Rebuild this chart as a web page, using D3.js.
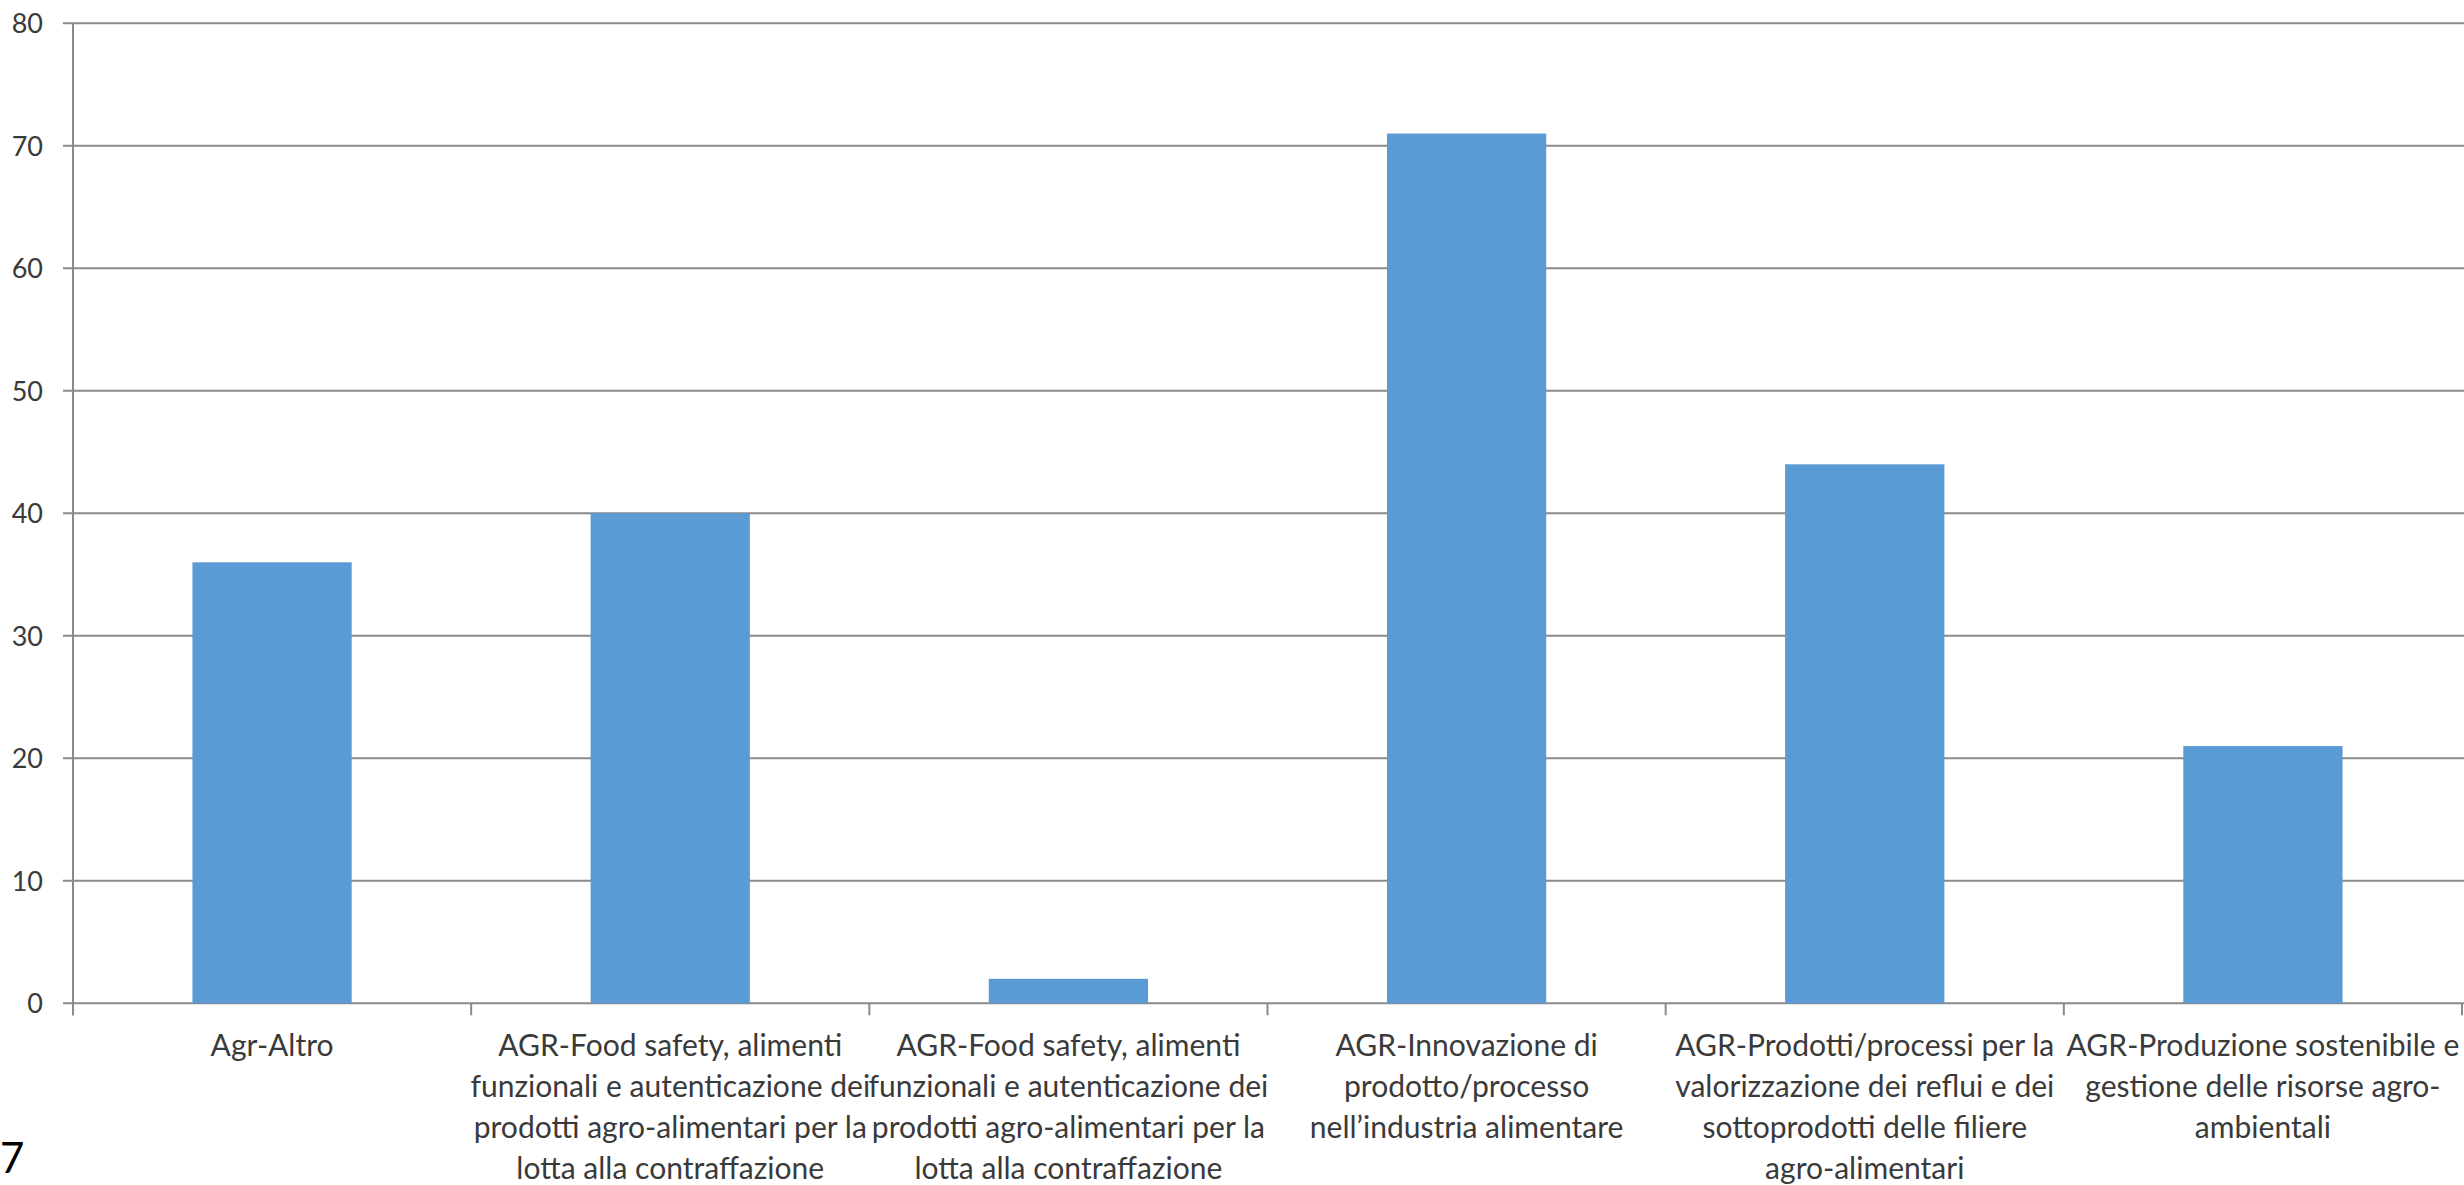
<!DOCTYPE html>
<html>
<head>
<meta charset="utf-8">
<script src="https://cdn.jsdelivr.net/npm/d3@7"></script>
<style>
  html, body { margin: 0; padding: 0; background: #fff; overflow: hidden; }
  svg { display: block; }
</style>
</head>
<body>
<svg id="chart" width="2464" height="1185"></svg>
<script>
// Categories (each entry is the wrapped label, one string per line)
const categoryLines = [
  ["Agr-Altro"],
  ["AGR-Food safety, alimenti", "funzionali e autenticazione dei", "prodotti agro-alimentari per la", "lotta alla contraffazione"],
  ["AGR-Food safety, alimenti", "funzionali e autenticazione dei", "prodotti agro-alimentari per la", "lotta alla contraffazione"],
  ["AGR-Innovazione di", "prodotto/processo", "nell’industria alimentare"],
  ["AGR-Prodotti/processi per la", "valorizzazione dei reflui e dei", "sottoprodotti delle filiere", "agro-alimentari"],
  ["AGR-Produzione sostenibile e", "gestione delle risorse agro-", "ambientali"]
];
const values = [36, 40, 2, 71, 44, 21];
const yTicks = [0, 10, 20, 30, 40, 50, 60, 70, 80];
const pageNumber = "7";

const svg = d3.select("#chart");
const margin = { left: 73, right: 2, top: 23, bottom: 182 };
const W = 2464, H = 1185;

const x = d3.scaleBand()
  .domain(d3.range(values.length))
  .range([margin.left, W - margin.right])
  .paddingInner(0)
  .paddingOuter(0);

const y = d3.scaleLinear()
  .domain([0, 80])
  .range([H - margin.bottom + 0.3, margin.top + 0.3]);

const gridColor = "#8a8a8a";
const textColor = "#3a3a3a";
const labelFont = "Lato, 'Open Sans', sans-serif";

// Horizontal gridlines with left ticks
const grid = svg.append("g");
grid.selectAll("line")
  .data(yTicks)
  .join("line")
  .attr("x1", margin.left - 10)
  .attr("x2", W)
  .attr("y1", d => y(d))
  .attr("y2", d => y(d))
  .attr("stroke", gridColor)
  .attr("stroke-width", 2);

// Y-axis tick labels
svg.append("g").selectAll("text")
  .data(yTicks)
  .join("text")
  .attr("x", 43)
  .attr("y", d => y(d))
  .attr("dy", "0.36em")
  .attr("text-anchor", "end")
  .attr("font-family", labelFont)
  .attr("font-size", 27)
  .attr("fill", textColor)
  .text(d => d);

// Bars: 40% of each category slot, centred
const barFrac = 0.4;
svg.append("g").selectAll("rect")
  .data(values)
  .join("rect")
  .attr("x", (d, i) => x(i) + x.bandwidth() * (1 - barFrac) / 2)
  .attr("width", x.bandwidth() * barFrac)
  .attr("y", d => y(d))
  .attr("height", d => y(0) - y(d))
  .attr("fill", "#5b9bd5");

// Axis lines
svg.append("line")
  .attr("x1", margin.left).attr("x2", margin.left)
  .attr("y1", y(80)).attr("y2", y(0) + 12)
  .attr("stroke", gridColor).attr("stroke-width", 2);

// Category boundary ticks below the baseline
const bounds = d3.range(values.length + 1).map(i => margin.left + i * x.step());
svg.append("g").selectAll("line")
  .data(bounds)
  .join("line")
  .attr("x1", d => d).attr("x2", d => d)
  .attr("y1", y(0)).attr("y2", y(0) + 12)
  .attr("stroke", gridColor).attr("stroke-width", 2);

// Category labels, condensed horizontally
const labelSize = 31;
const lineGap = 41;
const labelGroups = svg.append("g").selectAll("g")
  .data(categoryLines)
  .join("g")
  .attr("transform", (d, i) => `translate(${x(i) + x.bandwidth() / 2},${y(0) + 53})`);

const inner = labelGroups.append("g");
inner.each(function(lines) {
  d3.select(this).selectAll("text")
    .data(lines)
    .join("text")
    .attr("x", 0)
    .attr("y", (d, j) => j * lineGap)
    .attr("text-anchor", "middle")
    .attr("font-family", labelFont)
    .attr("font-size", labelSize)
    .attr("fill", textColor)
    .text(d => d);
});

// Squeeze the category text so the widest line fits its slot
let maxW = 0;
inner.selectAll("text").each(function() {
  maxW = Math.max(maxW, this.getComputedTextLength());
});
const sx = Math.min(1, 400 / maxW);
inner.attr("transform", `scale(${sx},1)`);

// Page number in the lower-left corner
svg.append("text")
  .attr("x", 0)
  .attr("y", 1173)
  .attr("font-family", labelFont)
  .attr("font-size", 42)
  .attr("fill", "#000")
  .text(pageNumber);
</script>
</body>
</html>
